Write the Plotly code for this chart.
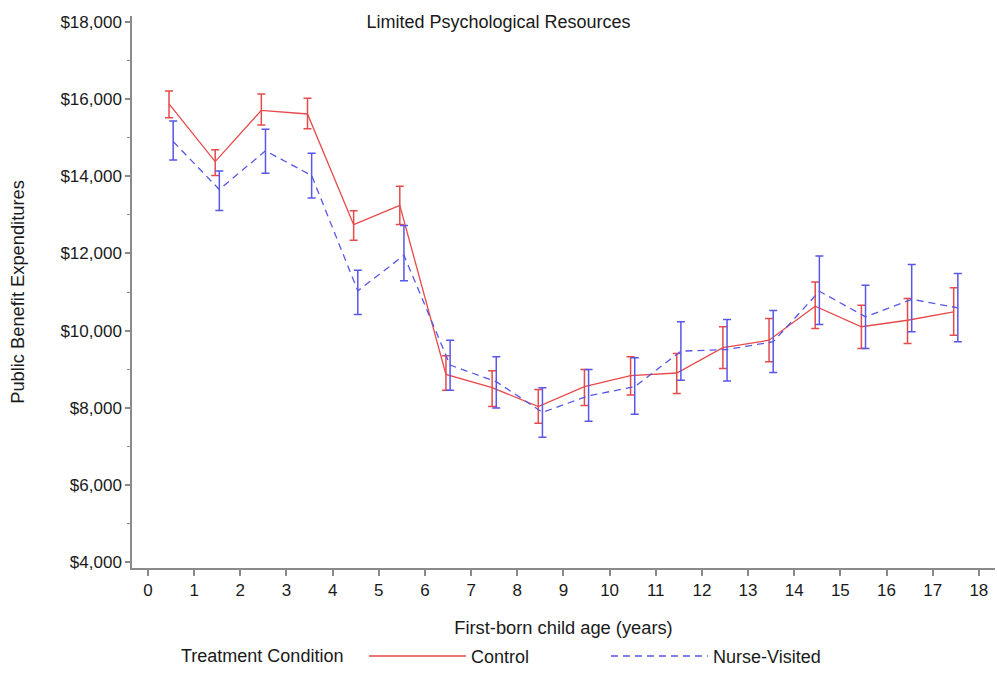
import plotly.graph_objects as go

# ---------------- data ----------------
age_labels = list(range(0, 19))
age_mid = [a + 0.5 for a in range(18)]

control_mean = [15875, 14380, 15710, 15615, 12745, 13245, 8864, 8520, 8030,
                8545, 8830, 8900, 9556, 9750, 10630, 10100, 10268, 10485]
control_upper = [16210, 14690, 16130, 16020, 13105, 13740, 9347, 8960, 8475,
                 8990, 9320, 9405, 10100, 10312, 11260, 10656, 10830, 11107]
control_lower = [15520, 14020, 15330, 15230, 12340, 12750, 8450, 8030, 7595,
                 8060, 8330, 8370, 9020, 9190, 10054, 9536, 9666, 9882]

nurse_mean = [14900, 13657, 14660, 14020, 11030, 11950, 9105, 8675, 7880,
              8310, 8545, 9466, 9510, 9710, 11020, 10356, 10810, 10590]
nurse_upper = [15430, 14140, 15220, 14600, 11561, 12725, 9750, 9320, 8520,
               8990, 9295, 10227, 10286, 10520, 11933, 11175, 11710, 11477]
nurse_lower = [14420, 13115, 14080, 13440, 10419, 11290, 8450, 7990, 7235,
               7650, 7830, 8715, 8690, 8915, 10157, 9536, 9970, 9710]

y_ticks = list(range(4000, 18001, 2000))

# ---------------- style ----------------
RED = "#E64A4A"
BLUE = "#5757E8"
FONT = "Liberation Sans, Arial, sans-serif"
TXT = "#1a1a1a"
AXC = "#8a8a8a"
FS = 17
JIT = 0.045

fig = go.Figure()

fig.add_trace(go.Scatter(
    x=[a - JIT for a in age_mid], y=control_mean, name="Control",
    mode="lines", line=dict(color=RED, width=1.3),
    error_y=dict(type="data", symmetric=False,
                 array=[u - m for u, m in zip(control_upper, control_mean)],
                 arrayminus=[m - l for m, l in zip(control_mean, control_lower)],
                 color=RED, thickness=1.5, width=4),
))
fig.add_trace(go.Scatter(
    x=[a + JIT for a in age_mid], y=nurse_mean, name="Nurse-Visited",
    mode="lines", line=dict(color=BLUE, width=1.3, dash="7px,5px"),
    error_y=dict(type="data", symmetric=False,
                 array=[u - m for u, m in zip(nurse_upper, nurse_mean)],
                 arrayminus=[m - l for m, l in zip(nurse_mean, nurse_lower)],
                 color=BLUE, thickness=1.5, width=4),
))

fig.update_layout(
    width=997, height=677,
    margin=dict(l=132, r=2, t=16, b=106),
    paper_bgcolor="white", plot_bgcolor="white",
    font=dict(family=FONT, size=FS, color=TXT),
    title=dict(text="Limited Psychological Resources", x=0.5, xanchor="center",
               y=1 - 22 / 677, yanchor="middle",
               font=dict(family=FONT, size=18, color=TXT)),
    showlegend=True,
    legend=dict(orientation="h", x=0.2688, xanchor="left", y=-0.16, yanchor="middle",
                itemwidth=97, entrywidth=130,
                font=dict(family=FONT, size=18, color=TXT)),
    annotations=[dict(text="Treatment Condition", xref="paper", yref="paper",
                      x=0.0545, y=-0.16, xanchor="left", yanchor="middle",
                      showarrow=False, font=dict(family=FONT, size=18, color=TXT))],
)

fig.update_xaxes(
    range=[-0.347, 18.35], tickmode="array", tickvals=age_labels,
    ticktext=[str(a) for a in age_labels],
    tickfont=dict(family=FONT, size=FS, color=TXT),
    showline=True, linecolor=AXC, linewidth=1.5,
    ticks="outside", ticklen=6, tickcolor=AXC, tickwidth=1.5,
    showgrid=False, zeroline=False,
    title=dict(text="First-born child age (years)", standoff=22,
               font=dict(family=FONT, size=18.3, color=TXT)),
)
fig.update_yaxes(
    range=[3845, 18155], tickmode="array", tickvals=y_ticks,
    ticktext=["${:,}".format(v) for v in y_ticks],
    tickfont=dict(family=FONT, size=FS, color=TXT),
    showline=True, linecolor=AXC, linewidth=1.5,
    ticks="outside", ticklen=5, tickcolor=AXC, tickwidth=1.5,
    minor=dict(tickmode="linear", tick0=5000, dtick=2000, ticks="outside",
               ticklen=3, tickcolor=AXC, tickwidth=1),
    showgrid=False, zeroline=False,
    title=dict(text="Public Benefit Expenditures", standoff=31,
               font=dict(family=FONT, size=18.3, color=TXT)),
)

fig.write_html("out.html")
